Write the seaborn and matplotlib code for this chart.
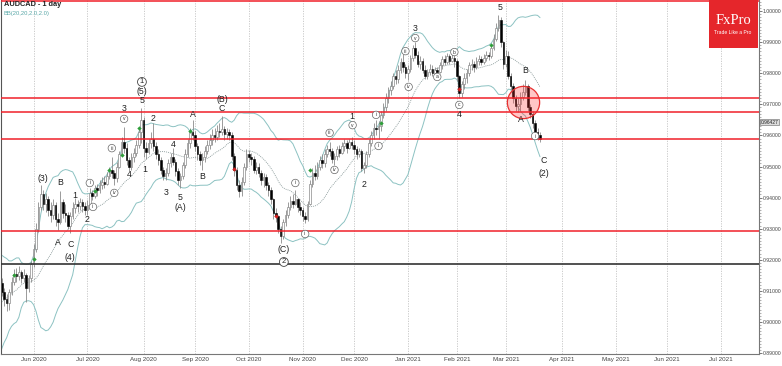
import matplotlib
matplotlib.use("Agg")
import matplotlib.pyplot as plt
from matplotlib.patches import Rectangle
from matplotlib.ticker import MultipleLocator
import seaborn as sns
import numpy as np
import pandas as pd

# daily bars, weekdays only, no Christmas / New Year bar
start_date = "2020-05-13"
axis_end_date = "2021-07-30"
holidays = ["2020-12-25", "2021-01-01"]

# closes before the first visible bar (only used to warm up the bands)
warmup_close = [8930, 8960, 8945, 8990, 9020, 9050, 9005, 8975, 9030, 9080,
                9120, 9150, 9130, 9175, 9160, 9120, 9095, 9130, 9125]

# prices in 1/10000
close_pips = [
    9098, 9075, 9062, 9095, 9130, 9155, 9148, 9160, 9140, 9150,
    9108, 9140, 9185, 9235, 9300, 9370, 9410, 9380, 9395, 9360,
    9345, 9375, 9330, 9320, 9385, 9350, 9345, 9310, 9340, 9365,
    9380, 9372, 9385, 9372, 9360, 9375, 9415, 9405, 9430, 9425,
    9440, 9450, 9445, 9470, 9490, 9478, 9462, 9500, 9540, 9580,
    9560, 9520, 9500, 9530, 9545, 9570, 9610, 9650, 9560, 9548,
    9575, 9590, 9565, 9540, 9520, 9490, 9470, 9480, 9510, 9530,
    9515, 9485, 9455, 9470, 9505, 9540, 9575, 9610, 9600, 9565,
    9540, 9520, 9530, 9550, 9570, 9585, 9600, 9595, 9615, 9610,
    9620, 9605, 9610, 9600, 9535, 9490, 9440, 9420, 9450, 9500,
    9540, 9530, 9525, 9490, 9500, 9480, 9455, 9465, 9440, 9425,
    9395, 9350, 9340, 9300, 9275, 9320, 9345, 9370, 9390, 9380,
    9395, 9370, 9360, 9340, 9330, 9380, 9445, 9480, 9470, 9500,
    9520, 9510, 9540, 9555, 9550, 9525, 9535, 9555, 9545, 9565,
    9575, 9560, 9580, 9570, 9555, 9540, 9550, 9495, 9505, 9540,
    9575, 9600, 9625, 9620, 9630, 9665, 9690, 9720, 9745, 9760,
    9790, 9780, 9810, 9835, 9820, 9800, 9815, 9850, 9880, 9860,
    9830, 9840, 9810, 9790, 9805, 9815, 9800, 9810, 9805, 9825,
    9845, 9835, 9855, 9840, 9850, 9840, 9790, 9735, 9765, 9785,
    9800, 9825, 9830, 9820, 9840, 9845, 9835, 9850, 9860, 9855,
    9880, 9910, 9945, 9970, 9900, 9830, 9855, 9790, 9760, 9720,
    9695, 9700, 9725, 9740, 9760, 9690, 9670, 9640, 9610, 9600,
    9590]
high_pips = [
    9140, 9110, 9090, 9105, 9145, 9170, 9175, 9180, 9168, 9172,
    9158, 9152, 9195, 9250, 9318, 9385, 9440, 9425, 9415, 9405,
    9385, 9395, 9385, 9350, 9420, 9395, 9380, 9355, 9355, 9385,
    9398, 9392, 9400, 9395, 9385, 9392, 9432, 9425, 9440, 9445,
    9455, 9465, 9468, 9482, 9500, 9530, 9490, 9515, 9550, 9595,
    9627, 9575, 9530, 9545, 9560, 9585, 9625, 9688, 9660, 9580,
    9590, 9610, 9640, 9580, 9555, 9530, 9500, 9495, 9525, 9545,
    9560, 9525, 9495, 9480, 9515, 9555, 9590, 9625, 9650, 9615,
    9575, 9550, 9545, 9565, 9585, 9605, 9620, 9625, 9635, 9640,
    9662, 9630, 9625, 9620, 9610, 9545, 9500, 9455, 9465, 9510,
    9555, 9552, 9545, 9535, 9515, 9510, 9490, 9480, 9475, 9450,
    9435, 9400, 9365, 9345, 9310, 9330, 9360, 9385, 9405, 9410,
    9424, 9400, 9385, 9370, 9355, 9390, 9455, 9495, 9505, 9515,
    9535, 9540, 9555, 9570, 9578, 9560, 9545, 9565, 9570, 9580,
    9588, 9585, 9590, 9596, 9585, 9565, 9560, 9555, 9515, 9550,
    9590, 9615, 9640, 9650, 9645, 9680, 9705, 9735, 9755, 9775,
    9800, 9810, 9825, 9850, 9862, 9830, 9825, 9860, 9890, 9900,
    9870, 9855, 9848, 9825, 9815, 9830, 9825, 9820, 9820, 9835,
    9855, 9860, 9865, 9862, 9870, 9862, 9845, 9795, 9775, 9800,
    9815, 9835, 9845, 9840, 9852, 9858, 9855, 9862, 9870, 9868,
    9890, 9925, 9960, 9987, 9980, 9905, 9875, 9870, 9800, 9770,
    9730, 9720, 9740, 9765, 9778, 9765, 9700, 9680, 9650, 9625,
    9610]
low_pips = [
    9085, 9050, 9035, 9040, 9088, 9120, 9130, 9135, 9125, 9128,
    9065, 9095, 9130, 9178, 9225, 9290, 9360, 9360, 9355, 9340,
    9320, 9330, 9310, 9295, 9315, 9335, 9320, 9300, 9286, 9330,
    9350, 9355, 9360, 9355, 9345, 9345, 9370, 9392, 9398, 9405,
    9415, 9428, 9430, 9440, 9460, 9462, 9440, 9450, 9495, 9535,
    9545, 9505, 9485, 9490, 9515, 9535, 9560, 9575, 9530, 9525,
    9540, 9560, 9550, 9525, 9505, 9475, 9455, 9457, 9470, 9500,
    9505, 9470, 9440, 9431, 9460, 9495, 9530, 9560, 9585, 9550,
    9520, 9505, 9489, 9515, 9540, 9555, 9570, 9580, 9585, 9595,
    9600, 9585, 9590, 9585, 9520, 9470, 9425, 9402, 9405, 9440,
    9490, 9515, 9505, 9480, 9475, 9465, 9440, 9435, 9425, 9405,
    9380, 9330, 9320, 9285, 9254, 9268, 9310, 9335, 9360, 9365,
    9375, 9355, 9345, 9325, 9318, 9325, 9375, 9435, 9455, 9460,
    9490, 9495, 9500, 9530, 9535, 9510, 9505, 9520, 9530, 9540,
    9550, 9545, 9555, 9555, 9540, 9525, 9530, 9485, 9480, 9495,
    9530, 9565, 9590, 9600, 9590, 9615, 9655, 9680, 9705, 9730,
    9750, 9765, 9770, 9800, 9805, 9785, 9778, 9805, 9840, 9850,
    9820, 9815, 9800, 9780, 9780, 9795, 9790, 9795, 9795, 9800,
    9815, 9825, 9830, 9830, 9835, 9820, 9775, 9720, 9725, 9750,
    9770, 9790, 9810, 9805, 9815, 9825, 9825, 9830, 9840, 9842,
    9850, 9875, 9905, 9935, 9885, 9815, 9820, 9780, 9745, 9705,
    9680, 9675, 9680, 9715, 9730, 9680, 9655, 9625, 9595, 9585,
    9580]

red_levels = [1.0033, 0.97193, 0.96762, 0.95900, 0.92926]
black_levels = [0.91849]
last_price = 0.96427

green_marks_bar = [5, 13, 38, 44, 49, 56, 77, 126, 155, 200]
green_marks_price = [0.9151, 0.9203, 0.9421, 0.9489, 0.9537, 0.9624, 0.9614, 0.9489, 0.9640, 0.9891]
red_marks_bar = [95, 112, 187]
red_marks_price = [0.9492, 0.9341, 0.9749]

wave_text = [
    (17, 0.9460, "(3)"), (24, 0.9447, "B"), (23, 0.9257, "A"), (28, 0.9248, "C"),
    (28, 0.9209, "(4)"), (30, 0.9408, "1"), (35, 0.9331, "2"), (50, 0.9685, "3"),
    (52, 0.9473, "4"), (57.3, 0.9711, "5"), (57.3, 0.9740, "(5)"), (58.5, 0.9489, "1"),
    (62, 0.9653, "2"), (67, 0.9418, "3"), (70, 0.9572, "4"), (73, 0.9399, "5"),
    (73, 0.9367, "(A)"), (78, 0.9666, "A"), (82, 0.9469, "B"), (90, 0.9685, "C"),
    (90, 0.9714, "(B)"), (115.3, 0.9232, "(C)"), (143, 0.9662, "1"), (148, 0.9441, "2"),
    (169, 0.9945, "3"), (187, 0.9666, "4"), (203.8, 1.0010, "5"), (212, 0.9650, "A"),
    (214, 0.9810, "B"), (221.4, 0.9518, "C"), (221.4, 0.9479, "(2)"),
]
wave_circled = [
    (36, 0.9447, "i"), (37.3, 0.9370, "ii"), (45, 0.9559, "iii"), (46, 0.9415, "iv"),
    (50, 0.9653, "v"), (120, 0.9447, "i"), (124, 0.9283, "ii"), (134, 0.9608, "iii"),
    (136, 0.9489, "iv"), (143.4, 0.9633, "v"), (153, 0.9666, "i"), (154, 0.9566, "ii"),
    (165, 0.9871, "iii"), (166.3, 0.9756, "iv"), (169, 0.9913, "v"), (178, 0.9788, "a"),
    (185, 0.9868, "b"), (187, 0.9698, "c"), (218, 0.9598, "i"),
]
wave_circled_big = [(57.3, 0.9772, "1"), (115.3, 0.9193, "2")]
focus_bar, focus_price = 213.2, 0.97074

# ---- data frame
df = pd.DataFrame({
    "close": np.array(close_pips) / 1e4,
    "high": np.array(high_pips) / 1e4,
    "low": np.array(low_pips) / 1e4,
})
df["open"] = np.r_[warmup_close[-1], close_pips[:-1]] / 1e4
df["bar"] = np.arange(len(df))

allc = pd.Series(np.r_[warmup_close, close_pips] / 1e4)
mid = allc.rolling(20).mean()
sd = allc.rolling(20).std(ddof=0)
n = len(df)
df["bb_mid"] = mid.iloc[-n:].values
df["bb_up"] = (mid + 2 * sd).iloc[-n:].values
df["bb_dn"] = (mid - 2 * sd).iloc[-n:].values

dates = pd.bdate_range(start_date, axis_end_date)
dates = dates[~dates.isin(pd.to_datetime(holidays))]
tick_pos, tick_lab = [], []
for i in range(1, len(dates)):
    if dates[i].month != dates[i - 1].month:
        tick_pos.append(i)
        tick_lab.append(dates[i].strftime("%b %Y"))

# ---- figure
sns.set_style("white")
plt.rcParams["font.family"] = ["Liberation Sans", "DejaVu Sans"]

fig = plt.figure(figsize=(7.82, 3.66), dpi=100)
ax = fig.add_axes([1 / 782, 12 / 366, 758 / 782, 354 / 366])

# bollinger bands
sns.lineplot(x=df["bar"], y=df["bb_up"], ax=ax, color="#8cc2c2", lw=0.7, zorder=1)
sns.lineplot(x=df["bar"], y=df["bb_dn"], ax=ax, color="#8cc2c2", lw=0.7, zorder=1)
sns.lineplot(x=df["bar"], y=df["bb_mid"], ax=ax, color="#8a9a9a", lw=0.6,
             ls=(0, (1.2, 1.2)), zorder=1)

# candles
up = df["close"] >= df["open"]
ax.vlines(df["bar"], df["low"], df["high"], color="#8a8a8a", lw=0.6, zorder=2)
body = (df["close"] - df["open"]).abs().clip(lower=0.00008)
bottom = df[["open", "close"]].min(axis=1)
ax.bar(df["bar"][up], body[up], bottom=bottom[up], width=0.66,
       color="white", edgecolor="#8a8a8a", linewidth=0.5, zorder=2.5)
ax.bar(df["bar"][~up], body[~up], bottom=bottom[~up], width=0.66,
       color="black", edgecolor="black", linewidth=0.4, zorder=2.5)

# levels
for lv in red_levels:
    ax.axhline(lv, color="#f0202a", lw=1.1, zorder=3)
for lv in black_levels:
    ax.axhline(lv, color="#333333", lw=1.2, zorder=3)

# signal markers
ax.scatter(green_marks_bar, green_marks_price, marker="D", s=5, color="#2e9e3a", zorder=4, lw=0)
ax.scatter(red_marks_bar, red_marks_price, marker="D", s=5, color="#d02020", zorder=4, lw=0)

# highlight circle
ax.scatter([focus_bar], [focus_price], s=540, facecolor=(1, 0.2, 0.2, 0.28),
           edgecolor="#e83030", lw=0.9, zorder=4)

# wave labels
for b, p, t in wave_text:
    ax.text(b, p, t, ha="center", va="center", fontsize=6.3, color="#222222", zorder=5)
for b, p, t in wave_circled:
    ax.text(b, p, t, ha="center", va="center", fontsize=3.6, color="#333333", zorder=5,
            bbox=dict(boxstyle="circle,pad=0.25", fc="white", ec="#666666", lw=0.5))
for b, p, t in wave_circled_big:
    ax.text(b, p, t, ha="center", va="center", fontsize=5.5, color="#222222", zorder=5,
            bbox=dict(boxstyle="circle,pad=0.12", fc="white", ec="#444444", lw=0.6))

# axes
ax.set_xlim(-0.3, 309.5)
ax.set_ylim(0.88971, 1.00354)
ax.set_xticks([p for p in tick_pos if p < 305])
ax.set_xticklabels([l for p, l in zip(tick_pos, tick_lab) if p < 305])
ax.xaxis.grid(True, color="#c4c4c4", lw=0.6, ls=(0, (1.5, 1.5)))
ax.yaxis.grid(False)
ax.yaxis.tick_right()
yt = np.round(np.arange(0.89, 1.0001, 0.01), 2)
ax.set_yticks(yt)
ax.set_yticklabels([f"{v:.5f}" for v in yt])
ax.yaxis.set_minor_locator(MultipleLocator(0.001))
ax.tick_params(axis="x", which="major", labelsize=4.5, colors="#444444",
               length=2, width=0.5, pad=0.5)
ax.tick_params(axis="y", which="major", labelsize=3.7, colors="#444444",
               length=2, width=0.5, pad=0.4)
ax.tick_params(axis="y", which="minor", length=1.3, width=0.4, colors="#777777", right=True)
ax.set_xlabel("")
ax.set_ylabel("")
ax.spines["top"].set_visible(False)
for s in ["left", "right", "bottom"]:
    ax.spines[s].set_color("#777777")
    ax.spines[s].set_linewidth(0.8)
ax.spines["left"].set_color("#555555")

ax.text(1.002, last_price, f"{last_price:.5f}", transform=ax.get_yaxis_transform(),
        ha="left", va="center", fontsize=3.5, color="#222222", zorder=6, clip_on=False,
        bbox=dict(boxstyle="square,pad=0.1", fc="#dcdcdc", ec="#666666", lw=0.4))

# header texts
fig.text(4 / 782, 1 - 5 / 366, "AUDCAD - 1 day", fontsize=5.3, weight="bold",
         color="#222222", va="center", ha="left")
fig.text(4 / 782, 1 - 13 / 366, "BB(20,20,2.0,2.0)", fontsize=4.2,
         color="#5aa8a8", va="center", ha="left")

# logo
fig.add_artist(Rectangle((709 / 782, 1 - 48 / 366), 49 / 782, 48 / 366,
                         transform=fig.transFigure, fc="#e5262b", ec="none", zorder=10))
fig.text(733 / 782, 1 - 21 / 366, "FxPro", fontsize=10.5, color="white",
         family=["Liberation Serif", "DejaVu Serif"], ha="center", va="center", zorder=11)
fig.text(733 / 782, 1 - 33 / 366, "Trade Like a Pro", fontsize=3.6, color="white",
         ha="center", va="center", zorder=11)

fig.savefig("out.png", dpi=100)
